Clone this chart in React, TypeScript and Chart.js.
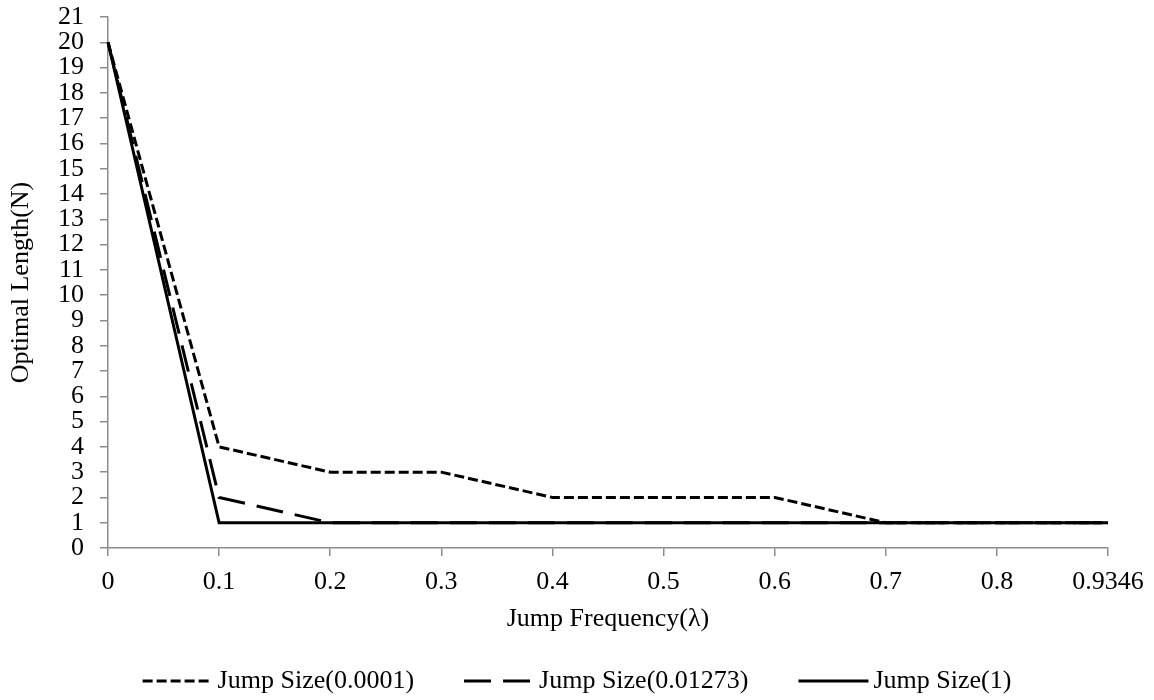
import React, { useEffect, useRef } from "react";
import { Chart, registerables } from "chart.js";

Chart.register(...registerables);

const categories = ["0", "0.1", "0.2", "0.3", "0.4", "0.5", "0.6", "0.7", "0.8", "0.9346"];
const seriesNames = ["Jump Size(0.0001)", "Jump Size(0.01273)", "Jump Size(1)"];
const jumpSmall = [20, 4, 3, 3, 2, 2, 2, 1, 1, 1];
const jumpMid = [20, 2, 1, 1, 1, 1, 1, 1, 1, 1];
const jumpOne = [20, 1, 1, 1, 1, 1, 1, 1, 1, 1];
const xTitle = "Jump Frequency(λ)";
const yTitle = "Optimal Length(N)";

const FONT = "'Liberation Serif', 'Times New Roman', serif";
const AXIS_GRAY = "#8c8c8c";
const TICK_SIZE = 26;
const TITLE_SIZE = 26;
const LEGEND_SIZE = 26;

const bottomLegend = {
  id: "bottomLegend",
  afterDraw(chart: any) {
    const ctx = chart.ctx as CanvasRenderingContext2D;
    const ds = chart.data.datasets;
    const sample = 70;
    const gapText = 5;
    const gapItem = 50;
    const cy = 681;
    ctx.save();
    ctx.font = `${LEGEND_SIZE}px ${FONT}`;
    const widths = ds.map((d: any) => ctx.measureText(d.label).width);
    const total =
      widths.reduce((a: number, w: number) => a + w + sample + gapText, 0) + gapItem * (ds.length - 1);
    let x = chart.width / 2 - total / 2;
    ds.forEach((d: any, i: number) => {
      ctx.beginPath();
      ctx.setLineDash(d.borderDash || []);
      ctx.lineWidth = d.borderWidth;
      ctx.strokeStyle = d.borderColor;
      ctx.moveTo(x, cy);
      ctx.lineTo(x + sample, cy);
      ctx.stroke();
      ctx.setLineDash([]);
      ctx.fillStyle = "#000";
      ctx.textAlign = "left";
      ctx.textBaseline = "middle";
      ctx.fillText(d.label, x + sample + gapText, cy);
      x += sample + gapText + widths[i] + gapItem;
    });
    ctx.restore();
  },
};

export default function App() {
  const ref = useRef<HTMLCanvasElement | null>(null);

  useEffect(() => {
    document.body.style.margin = "0";
    const canvas = ref.current;
    if (!canvas) return;
    const chart = new Chart(canvas, {
      type: "line",
      data: {
        labels: categories,
        datasets: [
          {
            label: seriesNames[0],
            data: jumpSmall,
            borderColor: "#000",
            backgroundColor: "#000",
            borderWidth: 3,
            borderDash: [10, 4],
            pointRadius: 0,
            tension: 0,
            order: 2,
          },
          {
            label: seriesNames[1],
            data: jumpMid,
            borderColor: "#000",
            backgroundColor: "#000",
            borderWidth: 3,
            borderDash: [27, 12],
            pointRadius: 0,
            tension: 0,
            order: 1,
          },
          {
            label: seriesNames[2],
            data: jumpOne,
            borderColor: "#000",
            backgroundColor: "#000",
            borderWidth: 3,
            borderDash: [],
            pointRadius: 0,
            tension: 0,
            order: 0,
          },
        ],
      },
      plugins: [bottomLegend],
      options: {
        animation: false,
        responsive: false,
        maintainAspectRatio: false,
        layout: { padding: { top: 17, right: 46, bottom: 0, left: 0 } },
        plugins: {
          tooltip: { enabled: false },
          legend: { display: false },
        },
        scales: {
          x: {
            type: "category",
            offset: false,
            afterFit: (s: any) => {
              s.height = 152;
              s.paddingLeft = 0;
              s.paddingRight = 0;
            },
            grid: {
              display: true,
              drawOnChartArea: false,
              drawTicks: true,
              tickLength: 8,
              color: AXIS_GRAY,
              lineWidth: 1.5,
              offset: false,
            },
            border: { color: AXIS_GRAY, width: 1.5 },
            ticks: {
              color: "#000",
              font: { family: FONT, size: TICK_SIZE },
              padding: 11,
              maxRotation: 0,
              autoSkip: false,
            },
            title: {
              display: true,
              text: xTitle,
              color: "#000",
              font: { family: FONT, size: TITLE_SIZE },
              padding: { top: 0, bottom: 65 },
            },
          },
          y: {
            min: 0,
            max: 21,
            afterFit: (s: any) => {
              s.width = 108;
              s.paddingTop = 0;
              s.paddingBottom = 0;
            },
            grid: {
              display: true,
              drawOnChartArea: false,
              drawTicks: true,
              tickLength: 8,
              color: AXIS_GRAY,
              lineWidth: 1.5,
            },
            border: { color: AXIS_GRAY, width: 1.5 },
            ticks: {
              stepSize: 1,
              color: "#000",
              font: { family: FONT, size: TICK_SIZE },
              padding: 16,
              autoSkip: false,
            },
            title: {
              display: true,
              text: yTitle,
              color: "#000",
              font: { family: FONT, size: TITLE_SIZE },
              padding: { top: 6, bottom: 20 },
            },
          },
        },
      },
    });
    return () => chart.destroy();
  }, []);

  return (
    <div style={{ width: 1154, height: 700, background: "#fff" }}>
      <canvas ref={ref} width={1154} height={700} style={{ width: 1154, height: 700, display: "block" }} />
    </div>
  );
}
